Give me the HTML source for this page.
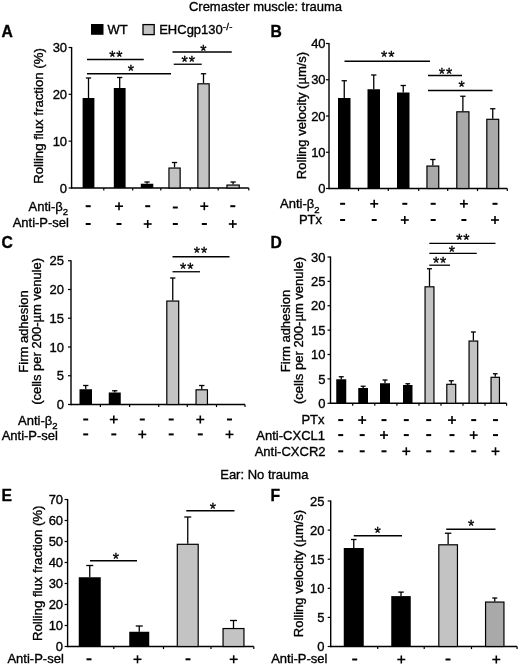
<!DOCTYPE html>
<html><head><meta charset="utf-8"><title>Figure</title>
<style>
html,body{margin:0;padding:0;background:#fff;}
svg{display:block;font-family:"Liberation Sans", sans-serif;fill:#000;filter:grayscale(1);}
text{stroke:#000;stroke-width:0.35px;}
</style></head><body>
<svg width="520" height="666" viewBox="0 0 520 666">
<rect x="0" y="0" width="520" height="666" fill="#fff"/>
<text x="265.5" y="10.5" font-size="13" text-anchor="middle" font-weight="normal" >Cremaster muscle: trauma</text>
<text x="264.3" y="478.7" font-size="13" text-anchor="middle" font-weight="normal" >Ear: No trauma</text>
<rect x="91" y="24" width="12.50" height="10.80" fill="#000"/>
<text x="107.5" y="34.3" font-size="13" text-anchor="start" font-weight="normal" >WT</text>
<rect x="143" y="24.6" width="11.20" height="10.00" fill="#c3c3c3" stroke="#000" stroke-width="1.3"/>
<text x="159.2" y="34.3" font-size="13">EHCgp130<tspan font-size="9.5" dy="-4" letter-spacing="0.3">-/-</tspan></text>
<text x="1.5" y="37.2" font-size="15.7" text-anchor="start" font-weight="bold" >A</text>
<text x="270.5" y="37.2" font-size="15.7" text-anchor="start" font-weight="bold" >B</text>
<text x="1.5" y="248" font-size="15.7" text-anchor="start" font-weight="bold" >C</text>
<text x="270.5" y="248" font-size="15.7" text-anchor="start" font-weight="bold" >D</text>
<text x="1.5" y="500.5" font-size="15.7" text-anchor="start" font-weight="bold" >E</text>
<text x="270.5" y="500.7" font-size="15.7" text-anchor="start" font-weight="bold" >F</text>
<line x1="71.6" y1="47.0" x2="71.6" y2="188.7" stroke="#000" stroke-width="1.4"/>
<line x1="71.6" y1="188" x2="248.8" y2="188" stroke="#000" stroke-width="1.4"/>
<line x1="68.6" y1="188.0" x2="71.6" y2="188.0" stroke="#000" stroke-width="1.2"/>
<text x="67.1" y="192.7" font-size="13" text-anchor="end" font-weight="normal" >0</text>
<line x1="68.6" y1="141.16666666666666" x2="71.6" y2="141.16666666666666" stroke="#000" stroke-width="1.2"/>
<text x="67.1" y="145.86666666666665" font-size="13" text-anchor="end" font-weight="normal" >10</text>
<line x1="68.6" y1="94.33333333333333" x2="71.6" y2="94.33333333333333" stroke="#000" stroke-width="1.2"/>
<text x="67.1" y="99.03333333333333" font-size="13" text-anchor="end" font-weight="normal" >20</text>
<line x1="68.6" y1="47.5" x2="71.6" y2="47.5" stroke="#000" stroke-width="1.2"/>
<text x="67.1" y="52.2" font-size="13" text-anchor="end" font-weight="normal" >30</text>
<line x1="103.8" y1="188" x2="103.8" y2="190.6" stroke="#000" stroke-width="1.2"/>
<line x1="132.7" y1="188" x2="132.7" y2="190.6" stroke="#000" stroke-width="1.2"/>
<line x1="160.8" y1="188" x2="160.8" y2="190.6" stroke="#000" stroke-width="1.2"/>
<line x1="190.2" y1="188" x2="190.2" y2="190.6" stroke="#000" stroke-width="1.2"/>
<line x1="218.2" y1="188" x2="218.2" y2="190.6" stroke="#000" stroke-width="1.2"/>
<line x1="248.8" y1="188" x2="248.8" y2="190.6" stroke="#000" stroke-width="1.2"/>
<text transform="translate(43.3,116) rotate(-90)" font-size="13.2" text-anchor="middle">Rolling flux fraction (%)</text>
<line x1="88.5" y1="78" x2="88.5" y2="98" stroke="#000" stroke-width="1.3"/>
<line x1="85.85" y1="78" x2="91.15" y2="78" stroke="#000" stroke-width="1.3"/>
<rect x="82.6" y="98" width="11.80" height="90.00" fill="#000"/>
<line x1="119.69999999999999" y1="77.5" x2="119.69999999999999" y2="88" stroke="#000" stroke-width="1.3"/>
<line x1="117.04999999999998" y1="77.5" x2="122.35" y2="77.5" stroke="#000" stroke-width="1.3"/>
<rect x="113.8" y="88" width="11.80" height="100.00" fill="#000"/>
<line x1="147.05" y1="182" x2="147.05" y2="183.75" stroke="#000" stroke-width="1.3"/>
<line x1="144.4" y1="182" x2="149.70000000000002" y2="182" stroke="#000" stroke-width="1.3"/>
<rect x="140.8" y="183.75" width="12.50" height="4.25" fill="#000"/>
<line x1="174.55" y1="162.5" x2="174.55" y2="167.5" stroke="#000" stroke-width="1.3"/>
<line x1="171.9" y1="162.5" x2="177.20000000000002" y2="162.5" stroke="#000" stroke-width="1.3"/>
<rect x="168.95000000000002" y="168.05" width="11.20" height="19.95" fill="#c3c3c3" stroke="#000" stroke-width="1.2"/>
<line x1="203.5" y1="73.75" x2="203.5" y2="83.25" stroke="#000" stroke-width="1.3"/>
<line x1="200.85" y1="73.75" x2="206.15" y2="73.75" stroke="#000" stroke-width="1.3"/>
<rect x="197.85000000000002" y="83.8" width="11.30" height="104.20" fill="#c3c3c3" stroke="#000" stroke-width="1.2"/>
<line x1="233.10000000000002" y1="182" x2="233.10000000000002" y2="184.5" stroke="#000" stroke-width="1.3"/>
<line x1="230.45000000000002" y1="182" x2="235.75000000000003" y2="182" stroke="#000" stroke-width="1.3"/>
<rect x="226.95000000000002" y="185.05" width="12.30" height="2.95" fill="#c3c3c3" stroke="#000" stroke-width="1.2"/>
<line x1="87" y1="59.5" x2="143.75" y2="59.5" stroke="#000" stroke-width="1.3"/>
<text x="116.275" y="63.46" font-size="16" text-anchor="middle" font-weight="normal" stroke-width="0.7" letter-spacing="0.9">**</text>
<line x1="87" y1="73.75" x2="171" y2="73.75" stroke="#000" stroke-width="1.3"/>
<text x="131.4" y="77.41" font-size="16" text-anchor="middle" font-weight="normal" stroke-width="0.7" letter-spacing="0.9">*</text>
<line x1="172.5" y1="52" x2="231.75" y2="52" stroke="#000" stroke-width="1.3"/>
<text x="203.82500000000002" y="56.96" font-size="16" text-anchor="middle" font-weight="normal" stroke-width="0.7" letter-spacing="0.9">*</text>
<line x1="173.75" y1="64.25" x2="201.75" y2="64.25" stroke="#000" stroke-width="1.3"/>
<text x="188.65" y="68.21000000000001" font-size="16" text-anchor="middle" font-weight="normal" stroke-width="0.7" letter-spacing="0.9">**</text>
<text x="68" y="211" font-size="13" text-anchor="end" font-weight="normal" >Anti-β<tspan font-size="9.5" dy="4.4">2</tspan></text>
<text x="69" y="227" font-size="13" text-anchor="end" font-weight="normal" >Anti-P-sel</text>
<line x1="85.7" y1="206.2" x2="90.7" y2="206.2" stroke="#000" stroke-width="2.0"/>
<line x1="115" y1="206.2" x2="123" y2="206.2" stroke="#000" stroke-width="1.6"/>
<line x1="119" y1="202.2" x2="119" y2="210.2" stroke="#000" stroke-width="1.6"/>
<line x1="145.2" y1="206.2" x2="150.2" y2="206.2" stroke="#000" stroke-width="2.0"/>
<line x1="172.8" y1="207.5" x2="177.8" y2="207.5" stroke="#000" stroke-width="2.0"/>
<line x1="200.3" y1="206.2" x2="208.3" y2="206.2" stroke="#000" stroke-width="1.6"/>
<line x1="204.3" y1="202.2" x2="204.3" y2="210.2" stroke="#000" stroke-width="1.6"/>
<line x1="230.3" y1="206.2" x2="235.3" y2="206.2" stroke="#000" stroke-width="2.0"/>
<line x1="85.7" y1="224" x2="90.7" y2="224" stroke="#000" stroke-width="2.0"/>
<line x1="116.5" y1="224" x2="121.5" y2="224" stroke="#000" stroke-width="2.0"/>
<line x1="143.7" y1="224" x2="151.7" y2="224" stroke="#000" stroke-width="1.6"/>
<line x1="147.7" y1="220" x2="147.7" y2="228" stroke="#000" stroke-width="1.6"/>
<line x1="172.8" y1="224" x2="177.8" y2="224" stroke="#000" stroke-width="2.0"/>
<line x1="201.8" y1="224" x2="206.8" y2="224" stroke="#000" stroke-width="2.0"/>
<line x1="228.8" y1="224" x2="236.8" y2="224" stroke="#000" stroke-width="1.6"/>
<line x1="232.8" y1="220" x2="232.8" y2="228" stroke="#000" stroke-width="1.6"/>
<line x1="329" y1="43.0" x2="329" y2="189.2" stroke="#000" stroke-width="1.4"/>
<line x1="329" y1="188.5" x2="507.3" y2="188.5" stroke="#000" stroke-width="1.4"/>
<line x1="326" y1="188.5" x2="329" y2="188.5" stroke="#000" stroke-width="1.2"/>
<text x="325.6" y="193.2" font-size="13" text-anchor="end" font-weight="normal" >0</text>
<line x1="326" y1="152.25" x2="329" y2="152.25" stroke="#000" stroke-width="1.2"/>
<text x="325.6" y="156.95" font-size="13" text-anchor="end" font-weight="normal" >10</text>
<line x1="326" y1="116.0" x2="329" y2="116.0" stroke="#000" stroke-width="1.2"/>
<text x="325.6" y="120.7" font-size="13" text-anchor="end" font-weight="normal" >20</text>
<line x1="326" y1="79.75" x2="329" y2="79.75" stroke="#000" stroke-width="1.2"/>
<text x="325.6" y="84.45" font-size="13" text-anchor="end" font-weight="normal" >30</text>
<line x1="326" y1="43.5" x2="329" y2="43.5" stroke="#000" stroke-width="1.2"/>
<text x="325.6" y="48.2" font-size="13" text-anchor="end" font-weight="normal" >40</text>
<line x1="358.5" y1="188.5" x2="358.5" y2="191.1" stroke="#000" stroke-width="1.2"/>
<line x1="388.3" y1="188.5" x2="388.3" y2="191.1" stroke="#000" stroke-width="1.2"/>
<line x1="418.7" y1="188.5" x2="418.7" y2="191.1" stroke="#000" stroke-width="1.2"/>
<line x1="447.7" y1="188.5" x2="447.7" y2="191.1" stroke="#000" stroke-width="1.2"/>
<line x1="477.5" y1="188.5" x2="477.5" y2="191.1" stroke="#000" stroke-width="1.2"/>
<line x1="507.3" y1="188.5" x2="507.3" y2="191.1" stroke="#000" stroke-width="1.2"/>
<text transform="translate(306.2,115.5) rotate(-90)" font-size="13" text-anchor="middle">Rolling velocity (µm/s)</text>
<line x1="344.25" y1="80.75" x2="344.25" y2="98" stroke="#000" stroke-width="1.3"/>
<line x1="341.6" y1="80.75" x2="346.9" y2="80.75" stroke="#000" stroke-width="1.3"/>
<rect x="338" y="98" width="12.50" height="90.50" fill="#000"/>
<line x1="373.75" y1="75" x2="373.75" y2="89.25" stroke="#000" stroke-width="1.3"/>
<line x1="371.1" y1="75" x2="376.4" y2="75" stroke="#000" stroke-width="1.3"/>
<rect x="367.5" y="89.25" width="12.50" height="99.25" fill="#000"/>
<line x1="403.25" y1="85.5" x2="403.25" y2="92.5" stroke="#000" stroke-width="1.3"/>
<line x1="400.6" y1="85.5" x2="405.9" y2="85.5" stroke="#000" stroke-width="1.3"/>
<rect x="397" y="92.5" width="12.50" height="96.00" fill="#000"/>
<line x1="432.85" y1="159.5" x2="432.85" y2="165.5" stroke="#000" stroke-width="1.3"/>
<line x1="430.20000000000005" y1="159.5" x2="435.5" y2="159.5" stroke="#000" stroke-width="1.3"/>
<rect x="426.95" y="166.05" width="11.80" height="22.45" fill="#a9a9a9" stroke="#000" stroke-width="1.2"/>
<line x1="462.875" y1="96.25" x2="462.875" y2="111.25" stroke="#000" stroke-width="1.3"/>
<line x1="460.225" y1="96.25" x2="465.525" y2="96.25" stroke="#000" stroke-width="1.3"/>
<rect x="456.8" y="111.8" width="12.15" height="76.70" fill="#a9a9a9" stroke="#000" stroke-width="1.2"/>
<line x1="492.75" y1="108.75" x2="492.75" y2="118.75" stroke="#000" stroke-width="1.3"/>
<line x1="490.1" y1="108.75" x2="495.4" y2="108.75" stroke="#000" stroke-width="1.3"/>
<rect x="486.8" y="119.3" width="11.90" height="69.20" fill="#a9a9a9" stroke="#000" stroke-width="1.2"/>
<line x1="344.5" y1="61.25" x2="430" y2="61.25" stroke="#000" stroke-width="1.3"/>
<text x="388.15" y="63.410000000000004" font-size="16" text-anchor="middle" font-weight="normal" stroke-width="0.7" letter-spacing="0.9">**</text>
<line x1="428" y1="75.5" x2="462" y2="75.5" stroke="#000" stroke-width="1.3"/>
<text x="445.9" y="79.96000000000001" font-size="16" text-anchor="middle" font-weight="normal" stroke-width="0.7" letter-spacing="0.9">**</text>
<line x1="428" y1="90.5" x2="492.5" y2="90.5" stroke="#000" stroke-width="1.3"/>
<text x="461.95" y="93.46000000000001" font-size="16" text-anchor="middle" font-weight="normal" stroke-width="0.7" letter-spacing="0.9">*</text>
<text x="319.5" y="208.3" font-size="13" text-anchor="end" font-weight="normal" >Anti-β<tspan font-size="9.5" dy="4.4">2</tspan></text>
<text x="322" y="224" font-size="13" text-anchor="end" font-weight="normal" >PTx</text>
<line x1="340.1" y1="203.8" x2="345.1" y2="203.8" stroke="#000" stroke-width="2.0"/>
<line x1="370.2" y1="203.8" x2="378.2" y2="203.8" stroke="#000" stroke-width="1.6"/>
<line x1="374.2" y1="199.8" x2="374.2" y2="207.8" stroke="#000" stroke-width="1.6"/>
<line x1="402.3" y1="203.8" x2="407.3" y2="203.8" stroke="#000" stroke-width="2.0"/>
<line x1="430.7" y1="203.8" x2="435.7" y2="203.8" stroke="#000" stroke-width="2.0"/>
<line x1="459.9" y1="203.8" x2="467.9" y2="203.8" stroke="#000" stroke-width="1.6"/>
<line x1="463.9" y1="199.8" x2="463.9" y2="207.8" stroke="#000" stroke-width="1.6"/>
<line x1="492.5" y1="203.8" x2="497.5" y2="203.8" stroke="#000" stroke-width="2.0"/>
<line x1="340.1" y1="220" x2="345.1" y2="220" stroke="#000" stroke-width="2.0"/>
<line x1="371.7" y1="220" x2="376.7" y2="220" stroke="#000" stroke-width="2.0"/>
<line x1="400.8" y1="220" x2="408.8" y2="220" stroke="#000" stroke-width="1.6"/>
<line x1="404.8" y1="216" x2="404.8" y2="224" stroke="#000" stroke-width="1.6"/>
<line x1="430.7" y1="220" x2="435.7" y2="220" stroke="#000" stroke-width="2.0"/>
<line x1="461.4" y1="220" x2="466.4" y2="220" stroke="#000" stroke-width="2.0"/>
<line x1="491" y1="220" x2="499" y2="220" stroke="#000" stroke-width="1.6"/>
<line x1="495" y1="216" x2="495" y2="224" stroke="#000" stroke-width="1.6"/>
<line x1="71" y1="260.25" x2="71" y2="405.2" stroke="#000" stroke-width="1.4"/>
<line x1="71" y1="404.5" x2="245" y2="404.5" stroke="#000" stroke-width="1.4"/>
<line x1="68" y1="404.5" x2="71" y2="404.5" stroke="#000" stroke-width="1.2"/>
<text x="64" y="409.2" font-size="13" text-anchor="end" font-weight="normal" >0</text>
<line x1="68" y1="375.75" x2="71" y2="375.75" stroke="#000" stroke-width="1.2"/>
<text x="64" y="380.45" font-size="13" text-anchor="end" font-weight="normal" >5</text>
<line x1="68" y1="347.0" x2="71" y2="347.0" stroke="#000" stroke-width="1.2"/>
<text x="64" y="351.7" font-size="13" text-anchor="end" font-weight="normal" >10</text>
<line x1="68" y1="318.25" x2="71" y2="318.25" stroke="#000" stroke-width="1.2"/>
<text x="64" y="322.95" font-size="13" text-anchor="end" font-weight="normal" >15</text>
<line x1="68" y1="289.5" x2="71" y2="289.5" stroke="#000" stroke-width="1.2"/>
<text x="64" y="294.2" font-size="13" text-anchor="end" font-weight="normal" >20</text>
<line x1="68" y1="260.75" x2="71" y2="260.75" stroke="#000" stroke-width="1.2"/>
<text x="64" y="265.45" font-size="13" text-anchor="end" font-weight="normal" >25</text>
<line x1="100.4" y1="404.5" x2="100.4" y2="407.1" stroke="#000" stroke-width="1.2"/>
<line x1="129.6" y1="404.5" x2="129.6" y2="407.1" stroke="#000" stroke-width="1.2"/>
<line x1="158.7" y1="404.5" x2="158.7" y2="407.1" stroke="#000" stroke-width="1.2"/>
<line x1="187.3" y1="404.5" x2="187.3" y2="407.1" stroke="#000" stroke-width="1.2"/>
<line x1="216.5" y1="404.5" x2="216.5" y2="407.1" stroke="#000" stroke-width="1.2"/>
<line x1="245" y1="404.5" x2="245" y2="407.1" stroke="#000" stroke-width="1.2"/>
<text transform="translate(28.2,331.5) rotate(-90)" font-size="13" text-anchor="middle">Firm adhesion</text>
<text transform="translate(40.9,331.4) rotate(-90)" font-size="13" text-anchor="middle">(cells per 200-µm venule)</text>
<line x1="85.75" y1="385.5" x2="85.75" y2="389.25" stroke="#000" stroke-width="1.3"/>
<line x1="83.1" y1="385.5" x2="88.4" y2="385.5" stroke="#000" stroke-width="1.3"/>
<rect x="79.5" y="389.25" width="12.50" height="15.25" fill="#000"/>
<line x1="114.75" y1="390.75" x2="114.75" y2="392.5" stroke="#000" stroke-width="1.3"/>
<line x1="112.1" y1="390.75" x2="117.4" y2="390.75" stroke="#000" stroke-width="1.3"/>
<rect x="108.75" y="392.5" width="12.00" height="12.00" fill="#000"/>
<line x1="172.75" y1="278" x2="172.75" y2="300.5" stroke="#000" stroke-width="1.3"/>
<line x1="170.1" y1="278" x2="175.4" y2="278" stroke="#000" stroke-width="1.3"/>
<rect x="166.8" y="301.05" width="11.90" height="103.45" fill="#c3c3c3" stroke="#000" stroke-width="1.2"/>
<line x1="201.75" y1="385.5" x2="201.75" y2="389.25" stroke="#000" stroke-width="1.3"/>
<line x1="199.1" y1="385.5" x2="204.4" y2="385.5" stroke="#000" stroke-width="1.3"/>
<rect x="196.05" y="389.8" width="11.40" height="14.70" fill="#c3c3c3" stroke="#000" stroke-width="1.2"/>
<line x1="172.5" y1="256.75" x2="229.5" y2="256.75" stroke="#000" stroke-width="1.3"/>
<text x="200.9" y="259.21" font-size="16" text-anchor="middle" font-weight="normal" stroke-width="0.7" letter-spacing="0.9">**</text>
<line x1="172.5" y1="271.75" x2="200" y2="271.75" stroke="#000" stroke-width="1.3"/>
<text x="187.15" y="275.10999999999996" font-size="16" text-anchor="middle" font-weight="normal" stroke-width="0.7" letter-spacing="0.9">**</text>
<text x="57.5" y="425" font-size="13" text-anchor="end" font-weight="normal" >Anti-β<tspan font-size="9.5" dy="4.4">2</tspan></text>
<text x="58" y="439.5" font-size="13" text-anchor="end" font-weight="normal" >Anti-P-sel</text>
<line x1="83.2" y1="419.5" x2="88.2" y2="419.5" stroke="#000" stroke-width="2.0"/>
<line x1="109.8" y1="419.5" x2="117.8" y2="419.5" stroke="#000" stroke-width="1.6"/>
<line x1="113.8" y1="415.5" x2="113.8" y2="423.5" stroke="#000" stroke-width="1.6"/>
<line x1="139.8" y1="419.5" x2="144.8" y2="419.5" stroke="#000" stroke-width="2.0"/>
<line x1="168.7" y1="419.5" x2="173.7" y2="419.5" stroke="#000" stroke-width="2.0"/>
<line x1="196.3" y1="419.5" x2="204.3" y2="419.5" stroke="#000" stroke-width="1.6"/>
<line x1="200.3" y1="415.5" x2="200.3" y2="423.5" stroke="#000" stroke-width="1.6"/>
<line x1="227.0" y1="419.5" x2="232.0" y2="419.5" stroke="#000" stroke-width="2.0"/>
<line x1="83.2" y1="434.4" x2="88.2" y2="434.4" stroke="#000" stroke-width="2.0"/>
<line x1="111.3" y1="434.4" x2="116.3" y2="434.4" stroke="#000" stroke-width="2.0"/>
<line x1="138.3" y1="434.4" x2="146.3" y2="434.4" stroke="#000" stroke-width="1.6"/>
<line x1="142.3" y1="430.4" x2="142.3" y2="438.4" stroke="#000" stroke-width="1.6"/>
<line x1="168.7" y1="434.4" x2="173.7" y2="434.4" stroke="#000" stroke-width="2.0"/>
<line x1="197.8" y1="434.4" x2="202.8" y2="434.4" stroke="#000" stroke-width="2.0"/>
<line x1="225.5" y1="434.4" x2="233.5" y2="434.4" stroke="#000" stroke-width="1.6"/>
<line x1="229.5" y1="430.4" x2="229.5" y2="438.4" stroke="#000" stroke-width="1.6"/>
<line x1="330.5" y1="256.5" x2="330.5" y2="403.95" stroke="#000" stroke-width="1.4"/>
<line x1="330.5" y1="403.25" x2="506.6" y2="403.25" stroke="#000" stroke-width="1.4"/>
<line x1="327.5" y1="403.25" x2="330.5" y2="403.25" stroke="#000" stroke-width="1.2"/>
<text x="325.5" y="407.95" font-size="13" text-anchor="end" font-weight="normal" >0</text>
<line x1="327.5" y1="378.875" x2="330.5" y2="378.875" stroke="#000" stroke-width="1.2"/>
<text x="325.5" y="383.575" font-size="13" text-anchor="end" font-weight="normal" >5</text>
<line x1="327.5" y1="354.5" x2="330.5" y2="354.5" stroke="#000" stroke-width="1.2"/>
<text x="325.5" y="359.2" font-size="13" text-anchor="end" font-weight="normal" >10</text>
<line x1="327.5" y1="330.125" x2="330.5" y2="330.125" stroke="#000" stroke-width="1.2"/>
<text x="325.5" y="334.825" font-size="13" text-anchor="end" font-weight="normal" >15</text>
<line x1="327.5" y1="305.75" x2="330.5" y2="305.75" stroke="#000" stroke-width="1.2"/>
<text x="325.5" y="310.45" font-size="13" text-anchor="end" font-weight="normal" >20</text>
<line x1="327.5" y1="281.375" x2="330.5" y2="281.375" stroke="#000" stroke-width="1.2"/>
<text x="325.5" y="286.075" font-size="13" text-anchor="end" font-weight="normal" >25</text>
<line x1="327.5" y1="257.0" x2="330.5" y2="257.0" stroke="#000" stroke-width="1.2"/>
<text x="325.5" y="261.7" font-size="13" text-anchor="end" font-weight="normal" >30</text>
<line x1="352.7" y1="403.25" x2="352.7" y2="405.85" stroke="#000" stroke-width="1.2"/>
<line x1="374.8" y1="403.25" x2="374.8" y2="405.85" stroke="#000" stroke-width="1.2"/>
<line x1="396.9" y1="403.25" x2="396.9" y2="405.85" stroke="#000" stroke-width="1.2"/>
<line x1="419" y1="403.25" x2="419" y2="405.85" stroke="#000" stroke-width="1.2"/>
<line x1="441" y1="403.25" x2="441" y2="405.85" stroke="#000" stroke-width="1.2"/>
<line x1="463" y1="403.25" x2="463" y2="405.85" stroke="#000" stroke-width="1.2"/>
<line x1="485" y1="403.25" x2="485" y2="405.85" stroke="#000" stroke-width="1.2"/>
<line x1="506.6" y1="403.25" x2="506.6" y2="405.85" stroke="#000" stroke-width="1.2"/>
<text transform="translate(290.2,331) rotate(-90)" font-size="13" text-anchor="middle">Firm adhesion</text>
<text transform="translate(303,330.5) rotate(-90)" font-size="13" text-anchor="middle">(cells per 200-µm venule)</text>
<line x1="341.25" y1="376.75" x2="341.25" y2="379.25" stroke="#000" stroke-width="1.3"/>
<line x1="338.75" y1="376.75" x2="343.75" y2="376.75" stroke="#000" stroke-width="1.3"/>
<rect x="336.25" y="379.25" width="10.00" height="24.00" fill="#000"/>
<line x1="363.125" y1="386.25" x2="363.125" y2="388" stroke="#000" stroke-width="1.3"/>
<line x1="360.6875" y1="386.25" x2="365.5625" y2="386.25" stroke="#000" stroke-width="1.3"/>
<rect x="358.25" y="388" width="9.75" height="15.25" fill="#000"/>
<line x1="385.0" y1="380" x2="385.0" y2="383.25" stroke="#000" stroke-width="1.3"/>
<line x1="382.5" y1="380" x2="387.5" y2="380" stroke="#000" stroke-width="1.3"/>
<rect x="380" y="383.25" width="10.00" height="20.00" fill="#000"/>
<line x1="407.75" y1="383.75" x2="407.75" y2="385" stroke="#000" stroke-width="1.3"/>
<line x1="405.375" y1="383.75" x2="410.125" y2="383.75" stroke="#000" stroke-width="1.3"/>
<rect x="403" y="385" width="9.50" height="18.25" fill="#000"/>
<line x1="429.5" y1="268.75" x2="429.5" y2="286.25" stroke="#000" stroke-width="1.3"/>
<line x1="427.0" y1="268.75" x2="432.0" y2="268.75" stroke="#000" stroke-width="1.3"/>
<rect x="425.05" y="286.8" width="8.90" height="116.45" fill="#c3c3c3" stroke="#000" stroke-width="1.2"/>
<line x1="451.25" y1="380.75" x2="451.25" y2="383.75" stroke="#000" stroke-width="1.3"/>
<line x1="448.75" y1="380.75" x2="453.75" y2="380.75" stroke="#000" stroke-width="1.3"/>
<rect x="446.8" y="384.3" width="8.90" height="18.95" fill="#c3c3c3" stroke="#000" stroke-width="1.2"/>
<line x1="473.375" y1="332" x2="473.375" y2="340.5" stroke="#000" stroke-width="1.3"/>
<line x1="470.9375" y1="332" x2="475.8125" y2="332" stroke="#000" stroke-width="1.3"/>
<rect x="469.05" y="341.05" width="8.65" height="62.20" fill="#c3c3c3" stroke="#000" stroke-width="1.2"/>
<line x1="495.25" y1="373.75" x2="495.25" y2="376.75" stroke="#000" stroke-width="1.3"/>
<line x1="492.875" y1="373.75" x2="497.625" y2="373.75" stroke="#000" stroke-width="1.3"/>
<rect x="491.05" y="377.3" width="8.40" height="25.95" fill="#c3c3c3" stroke="#000" stroke-width="1.2"/>
<line x1="429.3" y1="243.4" x2="495.5" y2="243.4" stroke="#000" stroke-width="1.3"/>
<text x="463.29999999999995" y="246.36" font-size="16" text-anchor="middle" font-weight="normal" stroke-width="0.7" letter-spacing="0.9">**</text>
<line x1="429.3" y1="253.4" x2="476.75" y2="253.4" stroke="#000" stroke-width="1.3"/>
<text x="452.25" y="257.96" font-size="16" text-anchor="middle" font-weight="normal" stroke-width="0.7" letter-spacing="0.9">*</text>
<line x1="429.3" y1="265.2" x2="450" y2="265.2" stroke="#000" stroke-width="1.3"/>
<text x="440.04999999999995" y="269.15999999999997" font-size="16" text-anchor="middle" font-weight="normal" stroke-width="0.7" letter-spacing="0.9">**</text>
<text x="324.5" y="424.2" font-size="13" text-anchor="end" font-weight="normal" >PTx</text>
<text x="325" y="440.2" font-size="13" text-anchor="end" font-weight="normal" >Anti-CXCL1</text>
<text x="325.5" y="456.2" font-size="13" text-anchor="end" font-weight="normal" >Anti-CXCR2</text>
<line x1="338.2" y1="420.1" x2="343.2" y2="420.1" stroke="#000" stroke-width="2.0"/>
<line x1="358.2" y1="420.1" x2="366.2" y2="420.1" stroke="#000" stroke-width="1.6"/>
<line x1="362.2" y1="416.1" x2="362.2" y2="424.1" stroke="#000" stroke-width="1.6"/>
<line x1="381.5" y1="420.1" x2="386.5" y2="420.1" stroke="#000" stroke-width="2.0"/>
<line x1="403.8" y1="420.1" x2="408.8" y2="420.1" stroke="#000" stroke-width="2.0"/>
<line x1="426.2" y1="420.1" x2="431.2" y2="420.1" stroke="#000" stroke-width="2.0"/>
<line x1="448" y1="420.1" x2="456" y2="420.1" stroke="#000" stroke-width="1.6"/>
<line x1="452" y1="416.1" x2="452" y2="424.1" stroke="#000" stroke-width="1.6"/>
<line x1="471.2" y1="420.1" x2="476.2" y2="420.1" stroke="#000" stroke-width="2.0"/>
<line x1="493.0" y1="420.1" x2="498.0" y2="420.1" stroke="#000" stroke-width="2.0"/>
<line x1="338.2" y1="435.1" x2="343.2" y2="435.1" stroke="#000" stroke-width="2.0"/>
<line x1="359.7" y1="435.1" x2="364.7" y2="435.1" stroke="#000" stroke-width="2.0"/>
<line x1="380" y1="435.1" x2="388" y2="435.1" stroke="#000" stroke-width="1.6"/>
<line x1="384" y1="431.1" x2="384" y2="439.1" stroke="#000" stroke-width="1.6"/>
<line x1="403.8" y1="435.1" x2="408.8" y2="435.1" stroke="#000" stroke-width="2.0"/>
<line x1="426.2" y1="435.1" x2="431.2" y2="435.1" stroke="#000" stroke-width="2.0"/>
<line x1="449.5" y1="435.1" x2="454.5" y2="435.1" stroke="#000" stroke-width="2.0"/>
<line x1="469.7" y1="435.1" x2="477.7" y2="435.1" stroke="#000" stroke-width="1.6"/>
<line x1="473.7" y1="431.1" x2="473.7" y2="439.1" stroke="#000" stroke-width="1.6"/>
<line x1="493.0" y1="435.1" x2="498.0" y2="435.1" stroke="#000" stroke-width="2.0"/>
<line x1="338.2" y1="451.3" x2="343.2" y2="451.3" stroke="#000" stroke-width="2.0"/>
<line x1="359.7" y1="451.3" x2="364.7" y2="451.3" stroke="#000" stroke-width="2.0"/>
<line x1="381.5" y1="451.3" x2="386.5" y2="451.3" stroke="#000" stroke-width="2.0"/>
<line x1="402.3" y1="451.3" x2="410.3" y2="451.3" stroke="#000" stroke-width="1.6"/>
<line x1="406.3" y1="447.3" x2="406.3" y2="455.3" stroke="#000" stroke-width="1.6"/>
<line x1="426.2" y1="451.3" x2="431.2" y2="451.3" stroke="#000" stroke-width="2.0"/>
<line x1="449.5" y1="451.3" x2="454.5" y2="451.3" stroke="#000" stroke-width="2.0"/>
<line x1="471.2" y1="451.3" x2="476.2" y2="451.3" stroke="#000" stroke-width="2.0"/>
<line x1="491.5" y1="451.3" x2="499.5" y2="451.3" stroke="#000" stroke-width="1.6"/>
<line x1="495.5" y1="447.3" x2="495.5" y2="455.3" stroke="#000" stroke-width="1.6"/>
<line x1="67.6" y1="499.0" x2="67.6" y2="647.2" stroke="#000" stroke-width="1.4"/>
<line x1="67.6" y1="646.5" x2="253.8" y2="646.5" stroke="#000" stroke-width="1.4"/>
<line x1="64.6" y1="646.5" x2="67.6" y2="646.5" stroke="#000" stroke-width="1.2"/>
<text x="63.099999999999994" y="651.2" font-size="13" text-anchor="end" font-weight="normal" >0</text>
<line x1="64.6" y1="625.5" x2="67.6" y2="625.5" stroke="#000" stroke-width="1.2"/>
<text x="63.099999999999994" y="630.2" font-size="13" text-anchor="end" font-weight="normal" >10</text>
<line x1="64.6" y1="604.5" x2="67.6" y2="604.5" stroke="#000" stroke-width="1.2"/>
<text x="63.099999999999994" y="609.2" font-size="13" text-anchor="end" font-weight="normal" >20</text>
<line x1="64.6" y1="583.5" x2="67.6" y2="583.5" stroke="#000" stroke-width="1.2"/>
<text x="63.099999999999994" y="588.2" font-size="13" text-anchor="end" font-weight="normal" >30</text>
<line x1="64.6" y1="562.5" x2="67.6" y2="562.5" stroke="#000" stroke-width="1.2"/>
<text x="63.099999999999994" y="567.2" font-size="13" text-anchor="end" font-weight="normal" >40</text>
<line x1="64.6" y1="541.5" x2="67.6" y2="541.5" stroke="#000" stroke-width="1.2"/>
<text x="63.099999999999994" y="546.2" font-size="13" text-anchor="end" font-weight="normal" >50</text>
<line x1="64.6" y1="520.5" x2="67.6" y2="520.5" stroke="#000" stroke-width="1.2"/>
<text x="63.099999999999994" y="525.2" font-size="13" text-anchor="end" font-weight="normal" >60</text>
<line x1="64.6" y1="499.5" x2="67.6" y2="499.5" stroke="#000" stroke-width="1.2"/>
<text x="63.099999999999994" y="504.2" font-size="13" text-anchor="end" font-weight="normal" >70</text>
<line x1="113.8" y1="646.5" x2="113.8" y2="649.1" stroke="#000" stroke-width="1.2"/>
<line x1="163.5" y1="646.5" x2="163.5" y2="649.1" stroke="#000" stroke-width="1.2"/>
<line x1="211" y1="646.5" x2="211" y2="649.1" stroke="#000" stroke-width="1.2"/>
<line x1="253.8" y1="646.5" x2="253.8" y2="649.1" stroke="#000" stroke-width="1.2"/>
<text transform="translate(41.7,573.3) rotate(-90)" font-size="13.2" text-anchor="middle">Rolling flux fraction (%)</text>
<line x1="89.75" y1="565.5" x2="89.75" y2="577.25" stroke="#000" stroke-width="1.3"/>
<line x1="86.25" y1="565.5" x2="93.25" y2="565.5" stroke="#000" stroke-width="1.3"/>
<rect x="78.75" y="577.25" width="22.00" height="69.25" fill="#000"/>
<line x1="139.25" y1="626" x2="139.25" y2="631.75" stroke="#000" stroke-width="1.3"/>
<line x1="135.75" y1="626" x2="142.75" y2="626" stroke="#000" stroke-width="1.3"/>
<rect x="129.25" y="631.75" width="20.00" height="14.75" fill="#000"/>
<line x1="187.75" y1="517" x2="187.75" y2="543.75" stroke="#000" stroke-width="1.3"/>
<line x1="184.25" y1="517" x2="191.25" y2="517" stroke="#000" stroke-width="1.3"/>
<rect x="177.3" y="544.3" width="20.90" height="102.20" fill="#c3c3c3" stroke="#000" stroke-width="1.2"/>
<line x1="233.5" y1="620.5" x2="233.5" y2="628" stroke="#000" stroke-width="1.3"/>
<line x1="230.0" y1="620.5" x2="237.0" y2="620.5" stroke="#000" stroke-width="1.3"/>
<rect x="223.05" y="628.55" width="20.90" height="17.95" fill="#c3c3c3" stroke="#000" stroke-width="1.2"/>
<line x1="90" y1="560.75" x2="137" y2="560.75" stroke="#000" stroke-width="1.3"/>
<text x="116.30000000000001" y="564.71" font-size="16" text-anchor="middle" font-weight="normal" stroke-width="0.7" letter-spacing="0.9">*</text>
<line x1="186.25" y1="510.75" x2="234.5" y2="510.75" stroke="#000" stroke-width="1.3"/>
<text x="213.20000000000002" y="514.71" font-size="16" text-anchor="middle" font-weight="normal" stroke-width="0.7" letter-spacing="0.9">*</text>
<text x="63.8" y="663" font-size="13" text-anchor="end" font-weight="normal" >Anti-P-sel</text>
<line x1="86.5" y1="659.3" x2="91.5" y2="659.3" stroke="#000" stroke-width="2.0"/>
<line x1="133.5" y1="659.3" x2="141.5" y2="659.3" stroke="#000" stroke-width="1.6"/>
<line x1="137.5" y1="655.3" x2="137.5" y2="663.3" stroke="#000" stroke-width="1.6"/>
<line x1="185.5" y1="659.3" x2="190.5" y2="659.3" stroke="#000" stroke-width="2.0"/>
<line x1="229.7" y1="659.3" x2="237.7" y2="659.3" stroke="#000" stroke-width="1.6"/>
<line x1="233.7" y1="655.3" x2="233.7" y2="663.3" stroke="#000" stroke-width="1.6"/>
<line x1="330.7" y1="500.5" x2="330.7" y2="647.2" stroke="#000" stroke-width="1.4"/>
<line x1="330.7" y1="646.5" x2="517.1" y2="646.5" stroke="#000" stroke-width="1.4"/>
<line x1="327.7" y1="646.5" x2="330.7" y2="646.5" stroke="#000" stroke-width="1.2"/>
<text x="324.5" y="651.2" font-size="13" text-anchor="end" font-weight="normal" >0</text>
<line x1="327.7" y1="617.4" x2="330.7" y2="617.4" stroke="#000" stroke-width="1.2"/>
<text x="324.5" y="622.1" font-size="13" text-anchor="end" font-weight="normal" >5</text>
<line x1="327.7" y1="588.3" x2="330.7" y2="588.3" stroke="#000" stroke-width="1.2"/>
<text x="324.5" y="593.0" font-size="13" text-anchor="end" font-weight="normal" >10</text>
<line x1="327.7" y1="559.2" x2="330.7" y2="559.2" stroke="#000" stroke-width="1.2"/>
<text x="324.5" y="563.9000000000001" font-size="13" text-anchor="end" font-weight="normal" >15</text>
<line x1="327.7" y1="530.1" x2="330.7" y2="530.1" stroke="#000" stroke-width="1.2"/>
<text x="324.5" y="534.8000000000001" font-size="13" text-anchor="end" font-weight="normal" >20</text>
<line x1="327.7" y1="501.0" x2="330.7" y2="501.0" stroke="#000" stroke-width="1.2"/>
<text x="324.5" y="505.7" font-size="13" text-anchor="end" font-weight="normal" >25</text>
<line x1="377.7" y1="646.5" x2="377.7" y2="649.1" stroke="#000" stroke-width="1.2"/>
<line x1="424.2" y1="646.5" x2="424.2" y2="649.1" stroke="#000" stroke-width="1.2"/>
<line x1="471.5" y1="646.5" x2="471.5" y2="649.1" stroke="#000" stroke-width="1.2"/>
<line x1="517.1" y1="646.5" x2="517.1" y2="649.1" stroke="#000" stroke-width="1.2"/>
<text transform="translate(303.3,573.5) rotate(-90)" font-size="13" text-anchor="middle">Rolling velocity (µm/s)</text>
<line x1="353.75" y1="539.5" x2="353.75" y2="548" stroke="#000" stroke-width="1.3"/>
<line x1="351.0" y1="539.5" x2="356.5" y2="539.5" stroke="#000" stroke-width="1.3"/>
<rect x="343.75" y="548" width="20.00" height="98.50" fill="#000"/>
<line x1="401.0" y1="592.1" x2="401.0" y2="596.1" stroke="#000" stroke-width="1.3"/>
<line x1="398.25" y1="592.1" x2="403.75" y2="592.1" stroke="#000" stroke-width="1.3"/>
<rect x="391.25" y="596.1" width="19.50" height="50.40" fill="#000"/>
<line x1="448.125" y1="533.25" x2="448.125" y2="544.25" stroke="#000" stroke-width="1.3"/>
<line x1="444.875" y1="533.25" x2="451.375" y2="533.25" stroke="#000" stroke-width="1.3"/>
<rect x="438.8" y="544.8" width="18.65" height="101.70" fill="#c3c3c3" stroke="#000" stroke-width="1.2"/>
<line x1="494.75" y1="598" x2="494.75" y2="601.5" stroke="#000" stroke-width="1.3"/>
<line x1="492.25" y1="598" x2="497.25" y2="598" stroke="#000" stroke-width="1.3"/>
<rect x="485.55" y="602.05" width="18.40" height="44.45" fill="#a9a9a9" stroke="#000" stroke-width="1.2"/>
<line x1="353.75" y1="535.75" x2="402" y2="535.75" stroke="#000" stroke-width="1.3"/>
<text x="378.0" y="538.51" font-size="16" text-anchor="middle" font-weight="normal" stroke-width="0.7" letter-spacing="0.9">*</text>
<line x1="446.25" y1="529.25" x2="495.5" y2="529.25" stroke="#000" stroke-width="1.3"/>
<text x="471.5" y="531.71" font-size="16" text-anchor="middle" font-weight="normal" stroke-width="0.7" letter-spacing="0.9">*</text>
<text x="327.5" y="663" font-size="13" text-anchor="end" font-weight="normal" >Anti-P-sel</text>
<line x1="352.2" y1="659.5" x2="357.2" y2="659.5" stroke="#000" stroke-width="2.0"/>
<line x1="397.3" y1="659.5" x2="405.3" y2="659.5" stroke="#000" stroke-width="1.6"/>
<line x1="401.3" y1="655.5" x2="401.3" y2="663.5" stroke="#000" stroke-width="1.6"/>
<line x1="445.5" y1="659.5" x2="450.5" y2="659.5" stroke="#000" stroke-width="2.0"/>
<line x1="492.3" y1="659.5" x2="500.3" y2="659.5" stroke="#000" stroke-width="1.6"/>
<line x1="496.3" y1="655.5" x2="496.3" y2="663.5" stroke="#000" stroke-width="1.6"/>
</svg>
</body></html>
